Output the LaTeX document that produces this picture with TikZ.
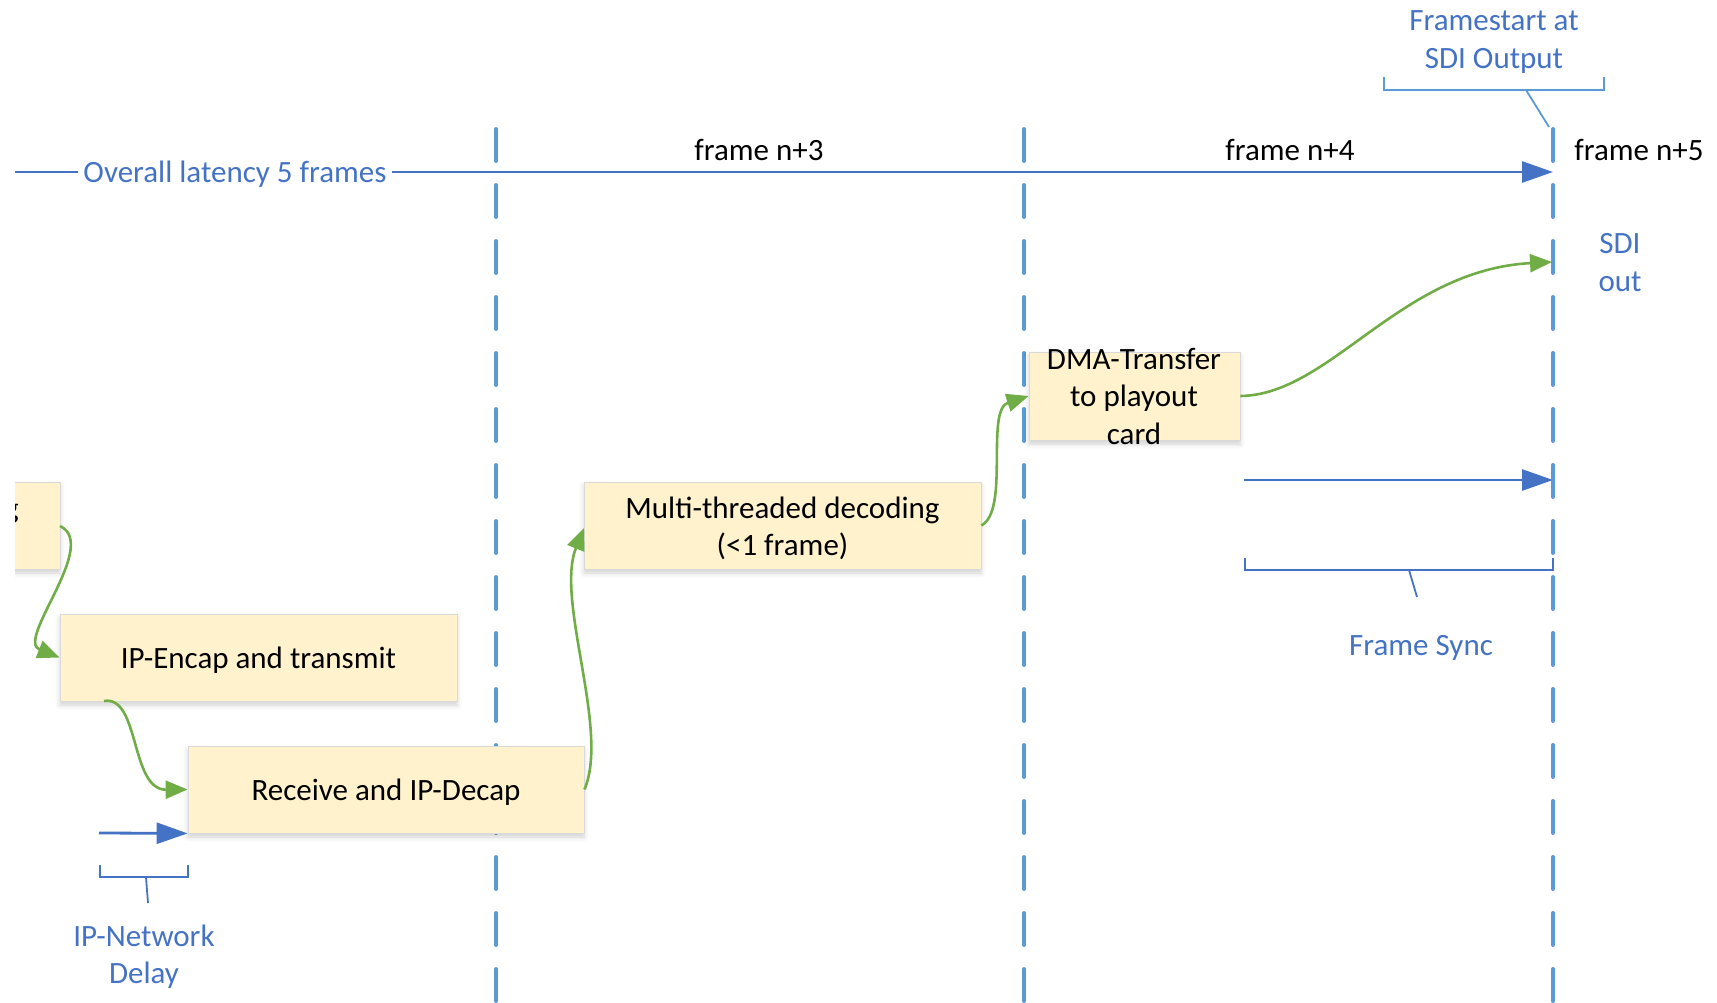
\documentclass[tikz,border=0pt]{standalone}
\usepackage{fontspec}
\setmainfont{Carlito}
\usetikzlibrary{arrows.meta,shadows.blur}
\definecolor{accent}{HTML}{4472C4}
\definecolor{gridblue}{HTML}{5B9BD5}
\definecolor{flowgreen}{HTML}{70AD47}
\definecolor{boxfill}{HTML}{FFF2CC}
\definecolor{boxline}{HTML}{D9D9D9}

\begin{document}
\begin{tikzpicture}[x=1pt,y=-1pt,
  font=\fontsize{31}{37.5}\selectfont,
  stage/.style={draw=boxline, line width=0.8pt, fill=boxfill, inner sep=0pt,
    blur shadow={shadow xshift=0pt, shadow yshift=-4pt, shadow blur radius=5pt, shadow opacity=18}},
  stagetext/.style={align=center, inner sep=0pt},
  frameline/.style={draw=gridblue, line width=4pt, line cap=round, dash pattern=on 32pt off 24pt},
  flow/.style={draw=flowgreen, line width=2.6pt, -{Triangle[length=22pt,width=18pt]}},
  span/.style={draw=accent, line width=2.8pt, -{Triangle[length=31pt,width=21pt]}},
  brace/.style={line width=1.8pt, line cap=butt},
  note/.style={text=accent, align=center, inner sep=0pt},
  caption/.style={inner sep=0pt, anchor=base}
]
\useasboundingbox (0,0) rectangle (1717,1003);

% frame boundaries
\foreach \fx in {496,1024,1553}
  \draw[frameline] (\fx,129) -- (\fx,1003);

% frame captions
\node[caption] (f3) at (759,160.5) {frame n+3};
\node[caption] (f4) at (1290,160.5) {frame n+4};
\node[caption] (f5) at (1639,160.5) {frame n+5};

% overall latency span
\coordinate (latstart) at (15,172);
\coordinate (latend) at (1553,172);
\node[text=accent, inner sep=5pt] (lat) at (235,174.5) {Overall latency 5 frames};
\draw[accent, line width=2.8pt] (latstart) -- (lat.west |- latstart);
\draw[span] (lat.east |- latend) -- (latend);

% frame start marker
\node[note] (fs) at (1494,42) {Framestart at\\SDI Output};
\draw[gridblue, brace] (1384,77) -- (1384,90) -- (1604,90) -- (1604,77);
\coordinate (fsfoot) at (1526,90);
\coordinate (fstop) at (1549,127);
\draw[gridblue, line width=1.8pt] (fsfoot) -- (fstop);

% SDI output
\node[note] (sdi) at (1620,262.5) {SDI\\out};
\coordinate (sdiin) at (1552,262);

% processing stages
\begin{scope}
  \clip (15,440) rectangle (120,620);
  \node[stage, minimum width=397pt, minimum height=87pt] (enc) at (-138.5,525.5) {};
  \node[caption, anchor=base east] at (19,518.5) {g};
\end{scope}
\node[stage, minimum width=397pt, minimum height=87pt] (tx) at (258.5,657.5) {};
\node[stagetext] at (258.5,660) {IP-Encap and transmit};
\node[stage, minimum width=396pt, minimum height=87pt] (rcv) at (386,789.5) {};
\node[stagetext] at (386,792) {Receive and IP-Decap};
\node[stage, minimum width=397pt, minimum height=87pt] (dec) at (782.5,525.5) {};
\node[stagetext] at (782.5,528.5) {Multi-threaded decoding\\(<1 frame)};
\node[stage, minimum width=211pt, minimum height=88pt] (dma) at (1134.5,396) {};
\node[stagetext] at (1134,396) {DMA-Transfer\\to playout\\card};

% data flow
\draw[flow] (60,526) .. controls (100,545) and (15,640) .. (tx.west);
\draw[flow] (104,701) .. controls (140,695) and (130,790) .. (rcv.west);
\draw[flow] (rcv.east) .. controls (610,730) and (555,600) .. (584,528);
\draw[flow] (dec.east) .. controls (1010,510) and (985,410) .. (dma.west);
\draw[flow] (dma.east) .. controls (1330,395) and (1400,270) .. (sdiin);

% IP network delay
\coordinate (netstart) at (99,833);
\draw[span] (netstart) -- (rcv.south west);
\draw[accent, brace] (100,865) -- (100,877) -- (188,877) -- (188,865);
\node[note] (net) at (144,956.5) {IP-Network\\Delay};
\coordinate (netfoot) at (146,877);
\coordinate (nettip) at (148,903);
\draw[accent, line width=1.8pt] (netfoot) -- (nettip);

% frame sync
\coordinate (syncstart) at (1244,480);
\coordinate (syncend) at (1553,480);
\draw[span] (syncstart) -- (syncend);
\draw[accent, brace] (1245,558) -- (1245,570) -- (1553,570) -- (1553,558);
\coordinate (syncfoot) at (1409,570);
\coordinate (synctip) at (1417,597);
\draw[accent, line width=1.8pt] (syncfoot) -- (synctip);
\node[caption, text=accent] (sync) at (1421,655.5) {Frame Sync};
\end{tikzpicture}
\end{document}
